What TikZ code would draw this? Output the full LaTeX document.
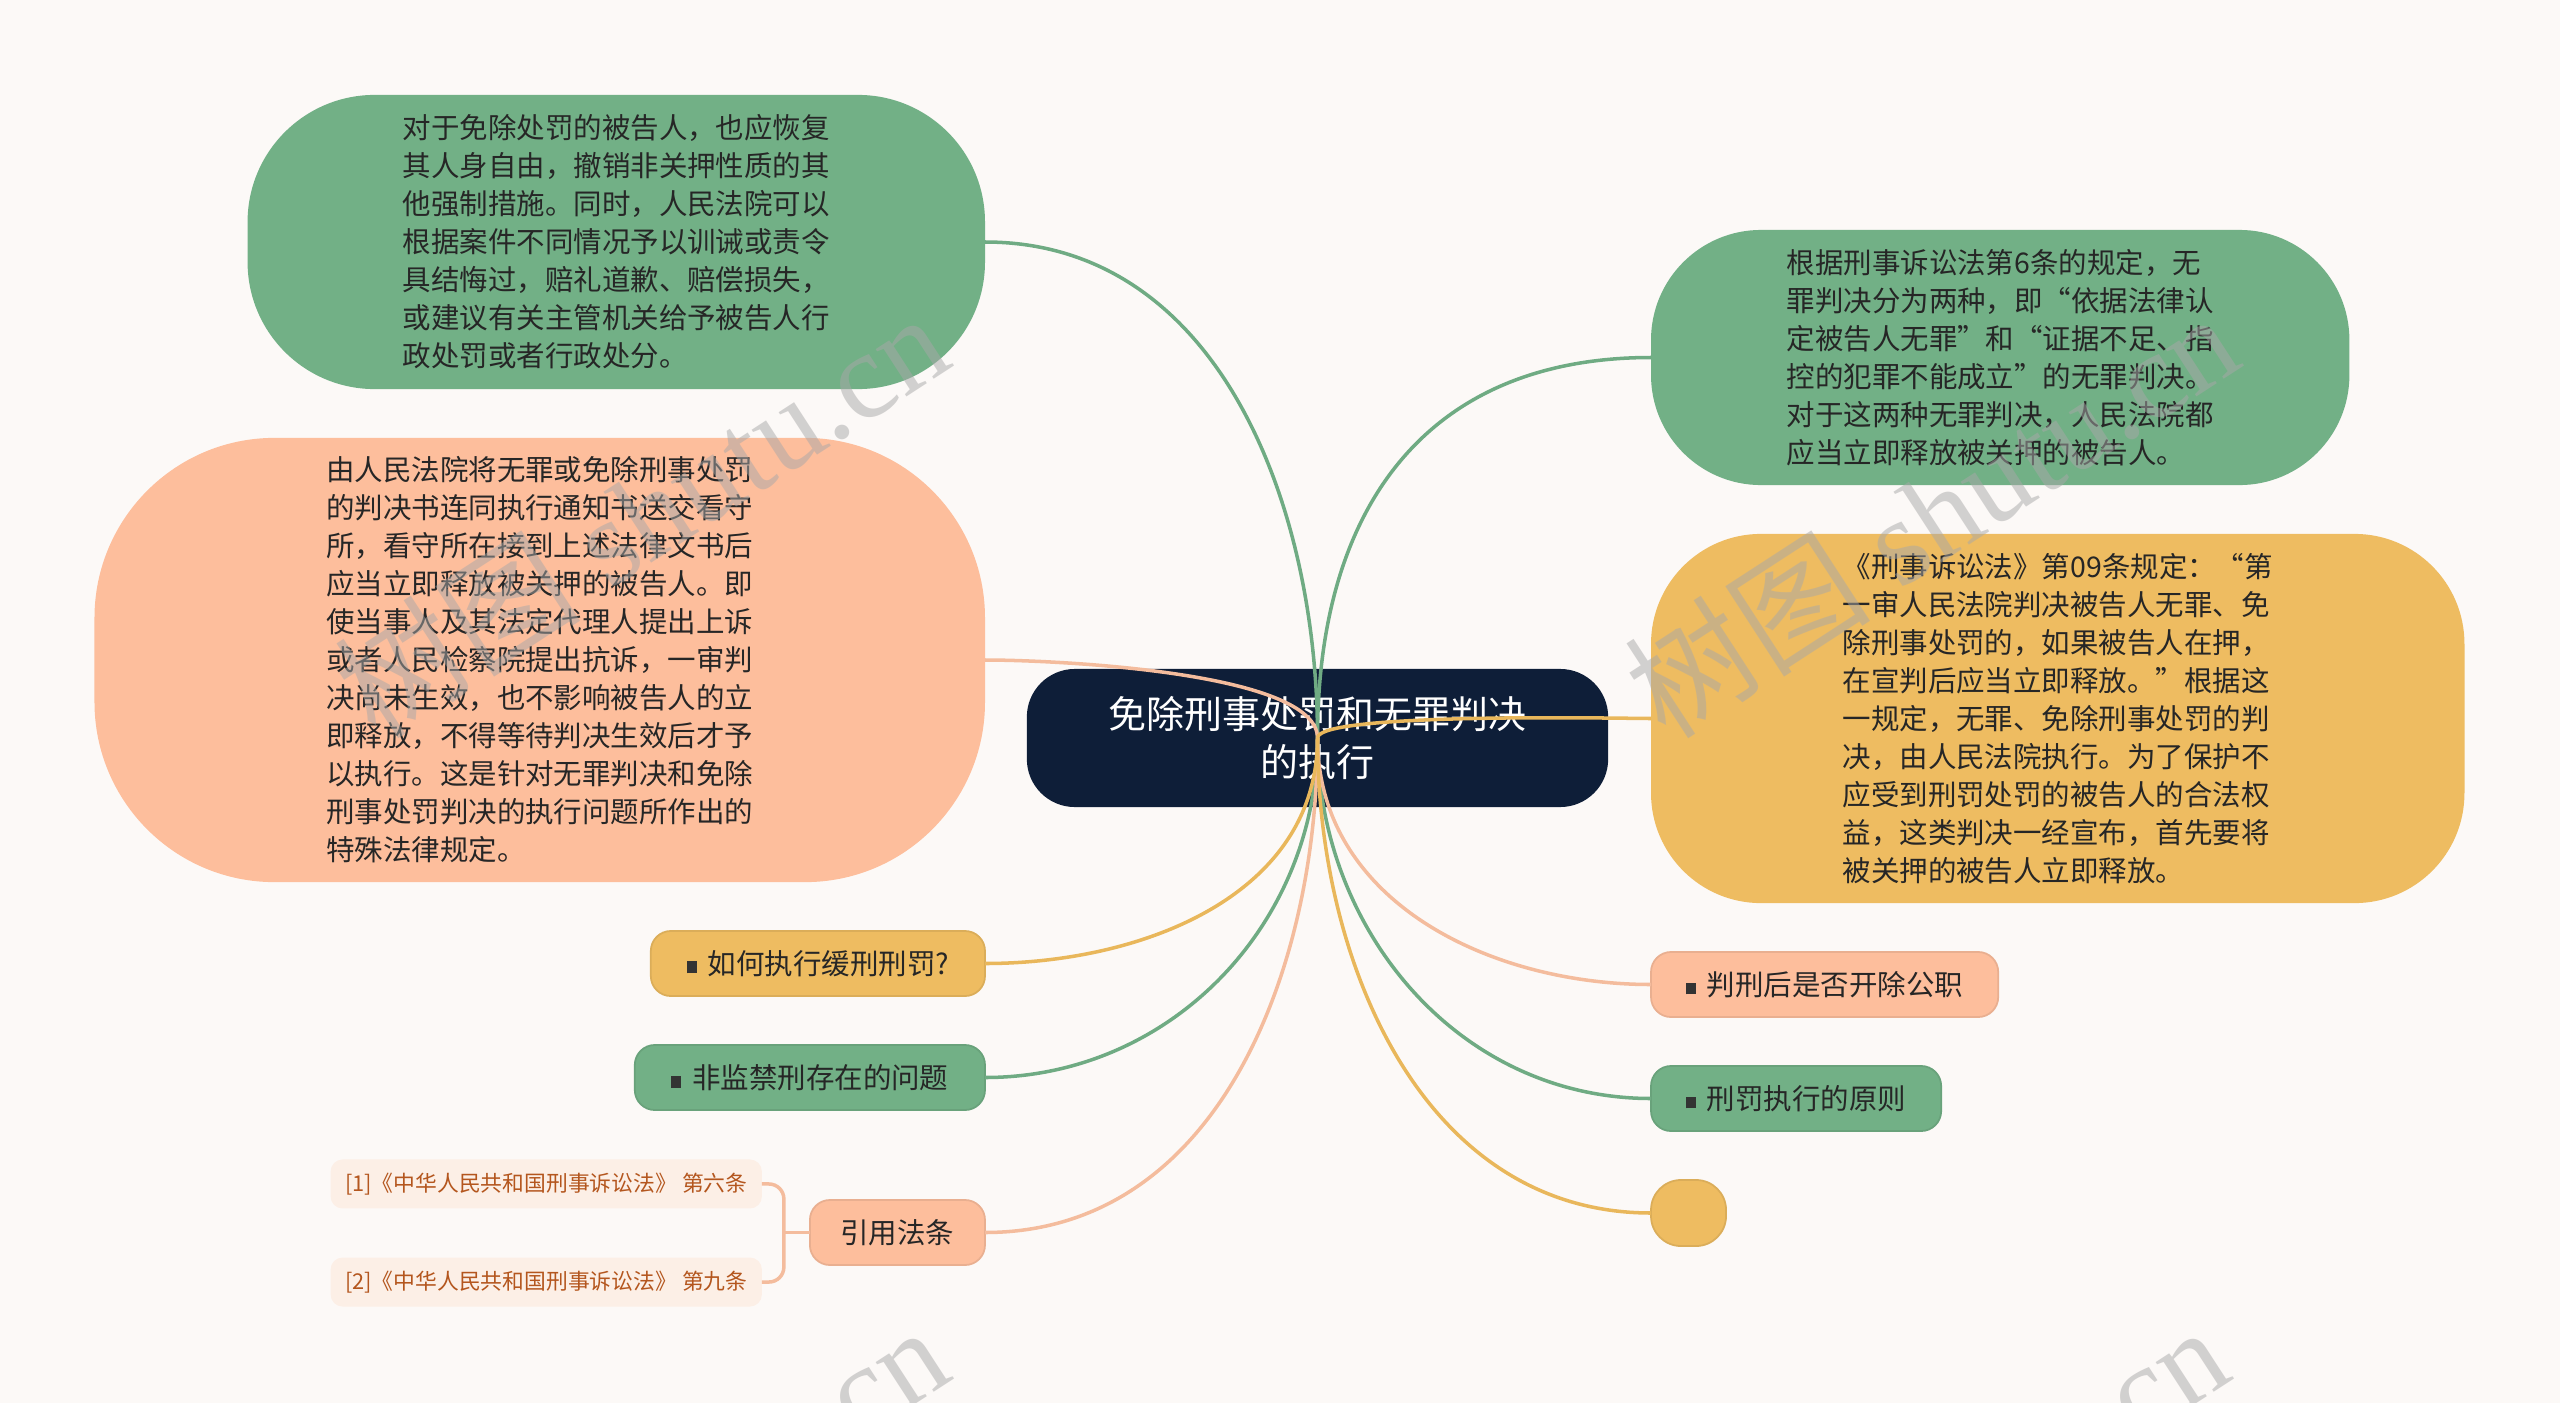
\documentclass[tikz,border=0pt]{standalone}
\usepackage{fontspec}
\usepackage{tikz}
\usetikzlibrary{positioning}
\newfontfamily\cjk{Noto Sans CJK SC}
\newfontfamily\markserif{Liberation Serif}
\usepackage{xcolor}
\definecolor{pagebg}{HTML}{FCF9F7}
\definecolor{topicnavy}{HTML}{0E1E38}
\definecolor{leafgreen}{HTML}{72B086}
\definecolor{leafpeach}{HTML}{FDBE9C}
\definecolor{leafyellow}{HTML}{EEBC61}
\definecolor{linkgreen}{HTML}{6FAB83}
\definecolor{linkpeach}{HTML}{F4BC9D}
\definecolor{linkyellow}{HTML}{E9B75B}
\definecolor{citefill}{HTML}{FCEFE6}
\definecolor{citetext}{HTML}{B4561E}
\definecolor{markgray}{HTML}{A8A8A8}

\newcommand{\sqbullet}{{\color{black!80}\rule[0.03em]{0.35em}{0.42em}}\hspace{0.38em}}

\begin{document}
\begin{tikzpicture}[
    x=0.01cm, y=-0.01cm,
    every node/.style={font=\cjk, outer sep=0pt, inner sep=0pt},
    topic/.style={rectangle, rounded corners=0.48cm, fill=topicnavy, text=white, align=center, minimum width=5.81cm, minimum height=1.38cm, font=\cjk\fontsize{10.8pt}{13.4pt}\selectfont},
    bigleaf/.style={rectangle, fill=#1, text=black!85, align=left, font=\cjk\fontsize{8.1pt}{10.8pt}\selectfont},
    smallleaf/.style={rectangle, rounded corners=0.2cm, fill=#1, draw=#1!92!black, line width=0.5pt, text=black!85, minimum height=0.65cm, font=\cjk\fontsize{8.1pt}{10pt}\selectfont},
    citebox/.style={rectangle, rounded corners=0.12cm, fill=citefill, text=citetext, minimum width=4.31cm, minimum height=0.49cm, font=\cjk\fontsize{6.2pt}{7.5pt}\selectfont},
    link/.style={line width=1pt, draw=#1},
    watermark/.style={text=markgray, text opacity=0.5, rotate=33, font=\markserif\fontsize{35pt}{35pt}\selectfont},
]

% page
\fill[pagebg] (0,0) rectangle (2560,1403);
\useasboundingbox (0,0) rectangle (2560,1403);

% Central topic
\node[topic] (root) at (1317.5,738) {免除刑事处罚和无罪判决\\的执行};

% Left big leaves
\node[bigleaf=leafgreen, rounded corners=1.27cm, minimum width=7.37cm, minimum height=2.94cm, anchor=east] (g1) at (985,242)
  {对于免除处罚的被告人，也应恢复\\其人身自由，撤销非关押性质的其\\他强制措施。同时，人民法院可以\\根据案件不同情况予以训诫或责令\\具结悔过，赔礼道歉、赔偿损失，\\或建议有关主管机关给予被告人行\\政处罚或者行政处分。};
\node[bigleaf=leafpeach, rounded corners=1.8cm, minimum width=8.9cm, minimum height=4.44cm, anchor=east] (p1) at (985,660)
  {由人民法院将无罪或免除刑事处罚\\的判决书连同执行通知书送交看守\\所，看守所在接到上述法律文书后\\应当立即释放被关押的被告人。即\\使当事人及其法定代理人提出上诉\\或者人民检察院提出抗诉，一审判\\决尚未生效，也不影响被告人的立\\即释放，不得等待判决生效后才予\\以执行。这是针对无罪判决和免除\\刑事处罚判决的执行问题所作出的\\特殊法律规定。};

% Right big leaves
\node[bigleaf=leafgreen, rounded corners=1.1cm, minimum width=6.98cm, minimum height=2.55cm, anchor=west] (g2) at (1651,357.5)
  {根据刑事诉讼法第6条的规定，无\\罪判决分为两种，即“依据法律认\\定被告人无罪”和“证据不足、指\\控的犯罪不能成立”的无罪判决。\\对于这两种无罪判决，人民法院都\\应当立即释放被关押的被告人。};
\node[bigleaf=leafyellow, rounded corners=1.1cm, minimum width=8.13cm, minimum height=3.69cm, anchor=west] (y1) at (1651,718.5)
  {《刑事诉讼法》第09条规定：“第\\一审人民法院判决被告人无罪、免\\除刑事处罚的，如果被告人在押，\\在宣判后应当立即释放。”根据这\\一规定，无罪、免除刑事处罚的判\\决，由人民法院执行。为了保护不\\应受到刑罚处罚的被告人的合法权\\益，这类判决一经宣布，首先要将\\被关押的被告人立即释放。};

% Left small leaves
\node[smallleaf=leafyellow, minimum width=3.34cm, anchor=east] (s1) at (985,963.5) {\sqbullet 如何执行缓刑刑罚?};
\node[smallleaf=leafgreen, minimum width=3.5cm, anchor=east] (s2) at (985,1077.5) {\sqbullet 非监禁刑存在的问题};
\node[smallleaf=leafpeach, minimum width=1.75cm, anchor=east] (cite) at (985,1232.5) {引用法条};

% Citations
\node[citebox, above left=0.24cm and 0.48cm of cite.west, anchor=south east] (ref1) {[1]《中华人民共和国刑事诉讼法》 第六条};
\node[citebox, below left=0.25cm and 0.48cm of cite.west, anchor=north east] (ref2) {[2]《中华人民共和国刑事诉讼法》 第九条};
\coordinate[left=0.26cm of cite.west] (fork);

% Right small leaves
\node[smallleaf=leafpeach, minimum width=3.47cm, anchor=west] (s3) at (1651,984.5) {\sqbullet 判刑后是否开除公职};
\node[smallleaf=leafgreen, minimum width=2.9cm, anchor=west] (s4) at (1651,1098.5) {\sqbullet 刑罚执行的原则};
\node[smallleaf=leafyellow, rounded corners=0.3cm, minimum width=0.75cm, minimum height=0.66cm, anchor=west] (s5) at (1651,1213) {};

% Links
\draw[link=linkgreen] (root.center) to[out=90,in=0] (g1.east);
\draw[link=linkgreen] (root.center) to[out=90,in=180,looseness=1.15] (g2.west);
\draw[link=linkgreen] (root.center) to[out=-90,in=0] (s2.east);
\draw[link=linkgreen] (root.center) to[out=-90,in=180] (s4.west);
\draw[link=linkpeach] (root.center) to[out=90,in=0,looseness=0.5] (p1.east);
\draw[link=linkpeach] (root.center) to[out=-90,in=0] (cite.east);
\draw[link=linkpeach] (root.center) to[out=-90,in=180] (s3.west);
\draw[link=linkyellow] (root.center) to[out=90,in=180,looseness=0.2] (y1.west);
\draw[link=linkyellow] (root.center) to[out=-90,in=0] (s1.east);
\draw[link=linkyellow] (root.center) to[out=-90,in=180] (s5.west);

% Citation bracket
\draw[link=linkpeach, rounded corners=0.15cm] (ref1.east) -| (fork) |- (ref2.east);
\draw[link=linkpeach] (fork) -- (cite.west);

% Watermarks
\begin{scope}
\clip (0,0) rectangle (2560,1403);
\node[watermark] (mark1) at (641,514) {{\cjk 树图} shutu.cn};
\node[watermark] (mark2) at (1931,514) {{\cjk 树图} shutu.cn};
\node[watermark] (mark3) at (641,1527) {{\cjk 树图} shutu.cn};
\node[watermark] (mark4) at (1921,1527) {{\cjk 树图} shutu.cn};
\end{scope}

\end{tikzpicture}
\end{document}
